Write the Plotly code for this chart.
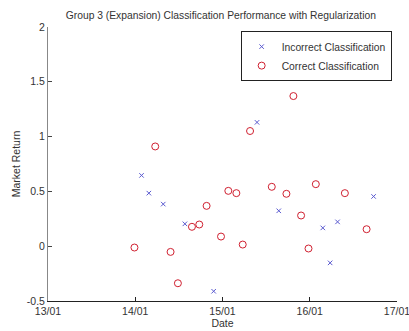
import plotly.graph_objects as go

# Data (x in "day" units: 13 -> 13/01, 14 -> 14/01, ...)
incorrect_x = [14.072, 14.156, 14.321, 14.569, 14.899, 15.396, 15.645, 16.150, 16.234, 16.319, 16.732]
incorrect_y = [0.646, 0.484, 0.384, 0.204, -0.411, 1.130, 0.323, 0.167, -0.152, 0.222, 0.454]

correct_x = [13.991, 14.229, 14.405, 14.489, 14.650, 14.734, 14.818, 14.983, 15.067, 15.159, 15.232,
             15.316, 15.480, 15.565, 15.733, 15.813, 15.901, 15.986, 16.070, 16.403, 16.652]
correct_y = [-0.012, 0.910, -0.052, -0.338, 0.177, 0.198, 0.368, 0.088, 0.505, 0.484, 0.015,
             1.051, 1.635, 0.542, 0.478, 1.370, 0.280, -0.021, 0.566, 0.484, 0.155]

x_tickvals = [13, 14, 15, 16, 17]
x_ticktext = ["13/01", "14/01", "15/01", "16/01", "17/01"]
y_tickvals = [-0.5, 0, 0.5, 1, 1.5, 2]
y_ticktext = ["-0.5", "0", "0.5", "1", "1.5", "2"]

FONT = "Liberation Sans, Arial, sans-serif"

fig = go.Figure()
fig.add_trace(go.Scatter(
    x=incorrect_x, y=incorrect_y, mode="markers", name="Incorrect Classification",
    marker=dict(symbol="x-thin-open", size=4.5, color="#5a5ad0", line=dict(width=1, color="#5a5ad0")),
))
fig.add_trace(go.Scatter(
    x=correct_x, y=correct_y, mode="markers", name="Correct Classification",
    marker=dict(symbol="circle-open", size=7, color="#d02030", line=dict(width=1, color="#d02030")),
))

fig.update_layout(
    width=409, height=331,
    margin=dict(l=48, r=12, t=27, b=30, autoexpand=False),
    paper_bgcolor="white", plot_bgcolor="white",
    font=dict(family=FONT, size=10.5, color="#333333"),
    title=dict(text="Group 3 (Expansion) Classification Performance with Regularization",
               x=0.54, xanchor="center", y=0.955, yanchor="middle",
               font=dict(family=FONT, size=10.3, color="#333333")),
    showlegend=True,
    legend=dict(x=0.552, y=0.985, xanchor="left", yanchor="top",
                bgcolor="white", bordercolor="#222222", borderwidth=1,
                font=dict(family=FONT, size=10.3, color="#333333"),
                itemwidth=30, tracegroupgap=0),
    xaxis=dict(range=[13, 17.0005], tickvals=x_tickvals, ticktext=x_ticktext,
               showgrid=False, zeroline=False, showline=True, linecolor="#222222", linewidth=1,
               ticks="inside", ticklen=4, tickcolor="#222222", mirror=False,
               automargin=False, ticklabeloverflow="allow",
               title=dict(text="Date", standoff=0, font=dict(size=10.5, color="#333333"))),
    yaxis=dict(range=[-0.5, 2], tickvals=y_tickvals, ticktext=y_ticktext,
               showgrid=False, zeroline=False, showline=True, linecolor="#888888", linewidth=1,
               ticks="inside", ticklen=4, tickcolor="#444444", mirror=False,
               automargin=False,
               title=dict(text="Market Return", standoff=4, font=dict(size=10.5, color="#333333"))),
)

fig.write_html("out.html")
